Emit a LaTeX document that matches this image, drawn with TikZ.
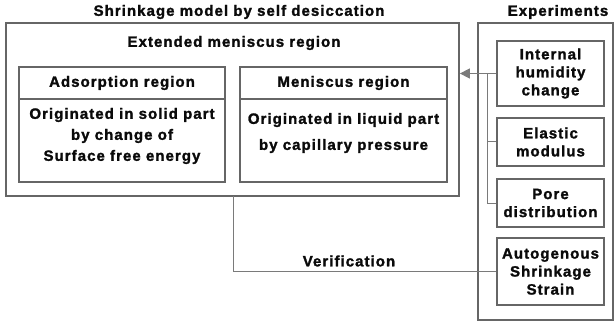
\documentclass[tikz,border=0pt]{standalone}
\usepackage{fontspec}
\setmainfont{Liberation Sans}[LetterSpace=7, BoldFeatures={FakeBold=1.6}]
\usetikzlibrary{arrows.meta}
\definecolor{boxc}{HTML}{666666}
\definecolor{connc}{HTML}{7A7A7A}
\definecolor{txtc}{HTML}{0A0A0A}
\begin{document}
\begin{tikzpicture}[x=1pt,y=-1pt,
  box/.style={draw=boxc, line width=1.7pt, fill=white, inner sep=0pt},
  conn/.style={draw=connc, line width=1pt},
  lbl/.style={font=\fontsize{15}{18}\selectfont\bfseries, text=txtc, align=center, inner sep=0pt}]
\useasboundingbox (0,0) rectangle (616,326);
% titles
\node[lbl] (t1) at (239,12) {Shrinkage model by self desiccation};
\node[lbl] (t2) at (558,12) {Experiments};
% left group
\node[box, minimum width=453pt, minimum height=173pt] (leftbox) at (232.5,109.5) {};
\node[lbl] (ext) at (234,43) {Extended meniscus region};
\node[box, minimum width=206pt, minimum height=115pt] (adsorp) at (122,124.5) {};
\node[box, minimum width=207pt, minimum height=115pt] (menisc) at (343.5,124.5) {};
\draw[boxc, line width=1.7pt] (adsorp.west |- 0,99) -- (adsorp.east |- 0,99);
\draw[boxc, line width=1.7pt] (menisc.west |- 0,99) -- (menisc.east |- 0,99);
\node[lbl] (adh) at (122,83) {Adsorption region};
\node[lbl] (meh) at (343.5,83) {Meniscus region};
\node[lbl, font=\fontsize{15}{21}\selectfont\bfseries] (adb) at (122,136) {Originated in solid part\\by change of\\Surface free energy};
\node[lbl, font=\fontsize{15}{26}\selectfont\bfseries] (meb) at (343.5,133) {Originated in liquid part\\by capillary pressure};
% right group
\node[box, minimum width=135pt, minimum height=297pt] (rightbox) at (545.5,171.5) {};
\node[box, lbl, minimum width=107pt, minimum height=65pt] (internal) at (550.5,73.5) {Internal\\humidity\\change};
\node[box, lbl, minimum width=107pt, minimum height=48pt] (elastic) at (550.5,142) {Elastic\\modulus};
\node[box, lbl, minimum width=107pt, minimum height=48pt] (pore) at (550.5,203) {Pore\\distribution};
\node[box, lbl, minimum width=107pt, minimum height=67pt] (auto) at (550.5,271.5) {Autogenous\\Shrinkage\\Strain};
% connectors
\coordinate (tip) at (leftbox.east |- internal.west);
\draw[conn, -{Triangle[length=10pt,width=10pt]}, fill=connc] (internal.west) -- (tip);
\coordinate (bj) at (487,73.5);
\draw[conn] (bj) |- (pore.west);
\draw[conn] (bj |- elastic.west) -- (elastic.west);
\coordinate (vtop) at (233,196);
\draw[conn] (vtop) |- (auto.west);
\node[lbl] (verif) at (349,261) {Verification};
\end{tikzpicture}
\end{document}
